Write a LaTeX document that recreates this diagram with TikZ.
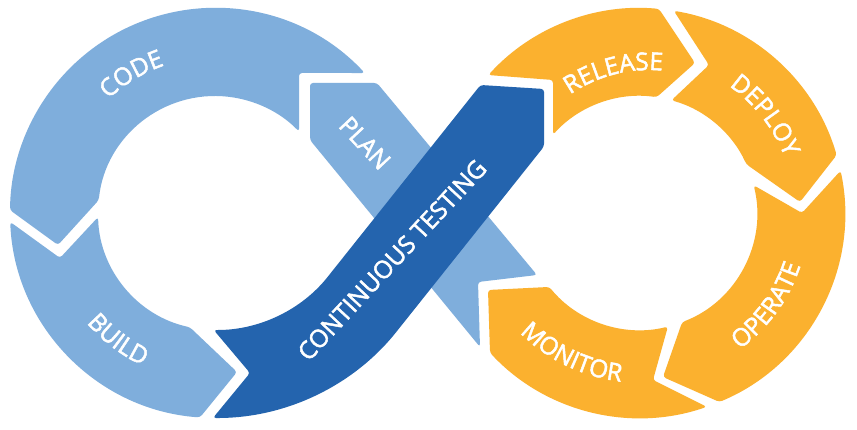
\documentclass[tikz,border=0pt]{standalone}
\usepackage{fontspec}
\setmainfont{Open Sans}[FakeBold=2]
\usetikzlibrary{calc,decorations.text}
\definecolor{lb}{HTML}{7FAEDC}
\definecolor{db}{HTML}{2464AE}
\definecolor{og}{HTML}{FBB12F}
\newcommand\segfont{\fontsize{24.5}{30}\selectfont}
\tikzset{
  lbseg/.style={fill=lb, rounded corners=3pt},
  dbseg/.style={fill=db, rounded corners=3pt},
  ogseg/.style={fill=og, rounded corners=3pt},
  lbl/.style={text=white, font=\segfont, inner sep=0pt},
  arctext/.style={decorate, decoration={text along path, text={|\segfont|#1}, text align=center, text color=white}}
}
\begin{document}
\begin{tikzpicture}[x=1pt,y=1pt]
\fill[white] (0,0) rectangle (857,430);
\useasboundingbox (0,0) rectangle (857,430);
\coordinate (L) at (215,217);
\coordinate (R) at (640,217);
\coordinate (C1) at (215,246);
\coordinate (RT) at (649,221);

% PLAN band (behind continuous testing)
\fill[lbseg] (310,290) -- (310,347) -- (377,347) -- (537,155) -- (478,148) -- (480,83) -- cycle;

% CODE
\fill[lbseg] ($(L)+(43.07:205pt)$) arc[start angle=43.07, end angle=179.2, radius=205pt]
  -- (58,185) -- ($(L)+(173.7:117pt)$) arc[start angle=173.7, end angle=44.1, radius=117pt]
  -- (299,357) -- cycle;
% BUILD
\fill[lbseg] ($(L)+(182.5:205pt)$) arc[start angle=182.5, end angle=265.8, radius=205pt]
  -- (237,58) -- ($(L)+(257.6:117pt)$) arc[start angle=257.6, end angle=182, radius=117pt]
  -- (60,172) -- cycle;

% RELEASE
\fill[ogseg] ($(R)+(137.7:205pt)$) arc[start angle=137.7, end angle=84.7, radius=205pt]
  -- (695,367) -- ($(R)+(81.8:117pt)$) arc[start angle=81.8, end angle=138, radius=117pt]
  -- (553,350) -- cycle;
% DEPLOY
\fill[ogseg] ($(R)+(80.5:205pt)$) arc[start angle=80.5, end angle=16.4, radius=205pt]
  -- (800,228) -- ($(R)+(24.6:117pt)$) arc[start angle=24.6, end angle=74.4, radius=117pt]
  -- (709,365) -- cycle;
% OPERATE
\fill[ogseg] ($(R)+(11.9:205pt)$) arc[start angle=11.9, end angle=-67.2, radius=205pt]
  -- (663,53) -- ($(R)+(-68.9:117pt)$) arc[start angle=-68.9, end angle=13.7, radius=117pt]
  -- (802,217) -- cycle;
% MONITOR
\fill[ogseg] (488,140) -- ($(R)+(219.2:117pt)$) arc[start angle=219.2, end angle=283.8, radius=117pt]
  -- (653,50) -- ($(R)+(289:205pt)$) arc[start angle=289, end angle=222.97, radius=205pt]
  -- cycle;

% CONTINUOUS TESTING band
\fill[dbseg] ($(C1)+(269.5:234pt)$) arc[start angle=269.5, end angle=321.5, radius=234pt]
  -- (544,283.5) -- (544,341) -- (480.5,345)
  -- ($(C1)+(321.5:146pt)$) arc[start angle=321.5, end angle=269.5, radius=146pt]
  -- (250,57) -- cycle;

% labels
\path[arctext={CODE}] ($(L)+(161:156pt)$) arc[start angle=161, end angle=81, radius=156pt];
\path[arctext={BUILD}] ($(L)+(192.6:169pt)$) arc[start angle=192.6, end angle=272.6, radius=169pt];
\path[arctext={RELEASE}] ($(RT)+(144.5:139pt)$) arc[start angle=144.5, end angle=64.5, radius=139pt];
\path[arctext={DEPLOY}] ($(R)+(78:155pt)$) arc[start angle=78, end angle=-2, radius=155pt];
\path[arctext={OPERATE}] ($(R)+(-76:169pt)$) arc[start angle=-76, end angle=4, radius=169pt];
\path[arctext={MONITOR}] ($(R)+(204.2:169.6pt)$) arc[start angle=204.2, end angle=284.2, radius=169.6pt];
\node[lbl, rotate=-47] (plan) at (365,287) {PLAN};
\node[lbl, rotate=47] (ct) at (392,170) {CONTINUOUS TESTING};
\end{tikzpicture}
\end{document}
